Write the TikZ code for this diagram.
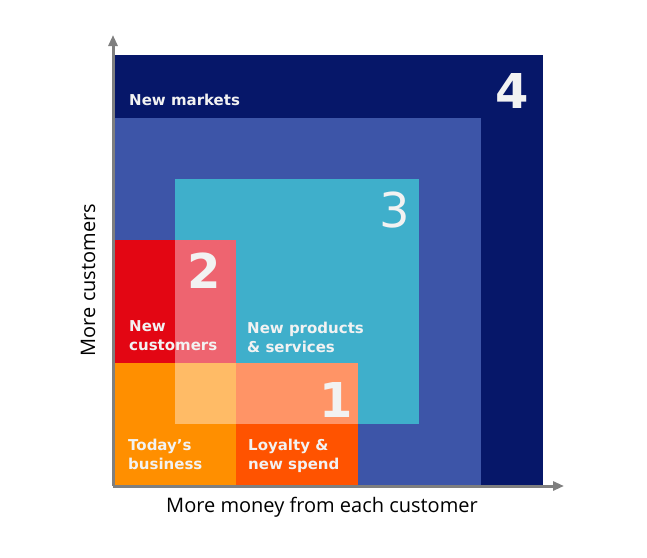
\documentclass[tikz,border=0pt]{standalone}
\usepackage{xcolor}
\usepackage{fontspec}
\setmainfont{DejaVu Sans}
\newfontfamily\axisfont{Open Sans}
\usepackage{tikz}
\usetikzlibrary{arrows.meta}
\definecolor{mktnavy}{HTML}{061769}
\definecolor{mktblue}{HTML}{3D55A8}
\definecolor{prodcyan}{HTML}{3FAFCB}
\definecolor{custred}{HTML}{E30613}
\definecolor{custlight}{HTML}{EE6470}
\definecolor{bizorange}{HTML}{FF8F00}
\definecolor{bizlight}{HTML}{FFBB66}
\definecolor{loysalmon}{HTML}{FF9466}
\definecolor{loyorange}{HTML}{FF5300}
\definecolor{axisgray}{HTML}{7F7F7F}
\definecolor{offwhite}{HTML}{F2F2F2}

\begin{document}
\begin{tikzpicture}[x=1pt,y=-1pt,
  lbl/.style={anchor=base west,inner sep=0pt,align=left,text=offwhite,font=\bfseries\fontsize{15}{19}\selectfont},
  num/.style={anchor=base,inner sep=0pt,text=offwhite,font=\bfseries\fontsize{48}{48}\selectfont},
  axis/.style={draw=axisgray,line width=3pt,-{Triangle[length=11pt,width=9pt]}},
  axlbl/.style={inner sep=0pt,font=\axisfont\fontsize{20}{24}\selectfont}]
\useasboundingbox (0,0) rectangle (647,557);
% growth squares
\fill[mktnavy] (115,55) rectangle (543,485);
\fill[mktblue] (115,118) rectangle (481,485);
\fill[prodcyan] (175,179) rectangle (419,424);
\fill[custred] (115,240) rectangle (236,363);
\fill[custlight] (175,240) rectangle (236,363);
\fill[bizorange] (115,363) rectangle (236,485);
\fill[bizlight] (175,363) rectangle (236,424);
\fill[loysalmon] (236,363) rectangle (358,424);
\fill[loyorange] (236,424) rectangle (358,485);
% labels (base = last line)
\node[lbl] (mkt) at (129,105) {New markets};
\node[lbl] (cust) at (129,350) {New\\customers};
\node[lbl] (prod) at (247,352) {New products\\\& services};
\node[lbl] (today) at (128,469) {Today’s\\business};
\node[lbl] (loyal) at (248,469) {Loyalty \&\\new spend};
\node[num] (n4) at (512.5,108) {4};
\node[num,font=\mdseries\fontsize{48}{48}\selectfont] (n3) at (394.5,227) {3};
\node[num] (n2) at (204.5,288) {2};
\node[num] (n1) at (336,417) {1};
% axes
\coordinate (orig) at (113,486);
\coordinate (ytip) at (113,35);
\coordinate (xtip) at (564,486);
\draw[axis] (orig) -- (ytip);
\draw[axis] (orig) -- (xtip);
\node[axlbl] (xlab) at (322,507) {More money from each customer};
\node[axlbl,rotate=90] (ylab) at (88,280) {More customers};
\end{tikzpicture}
\end{document}
